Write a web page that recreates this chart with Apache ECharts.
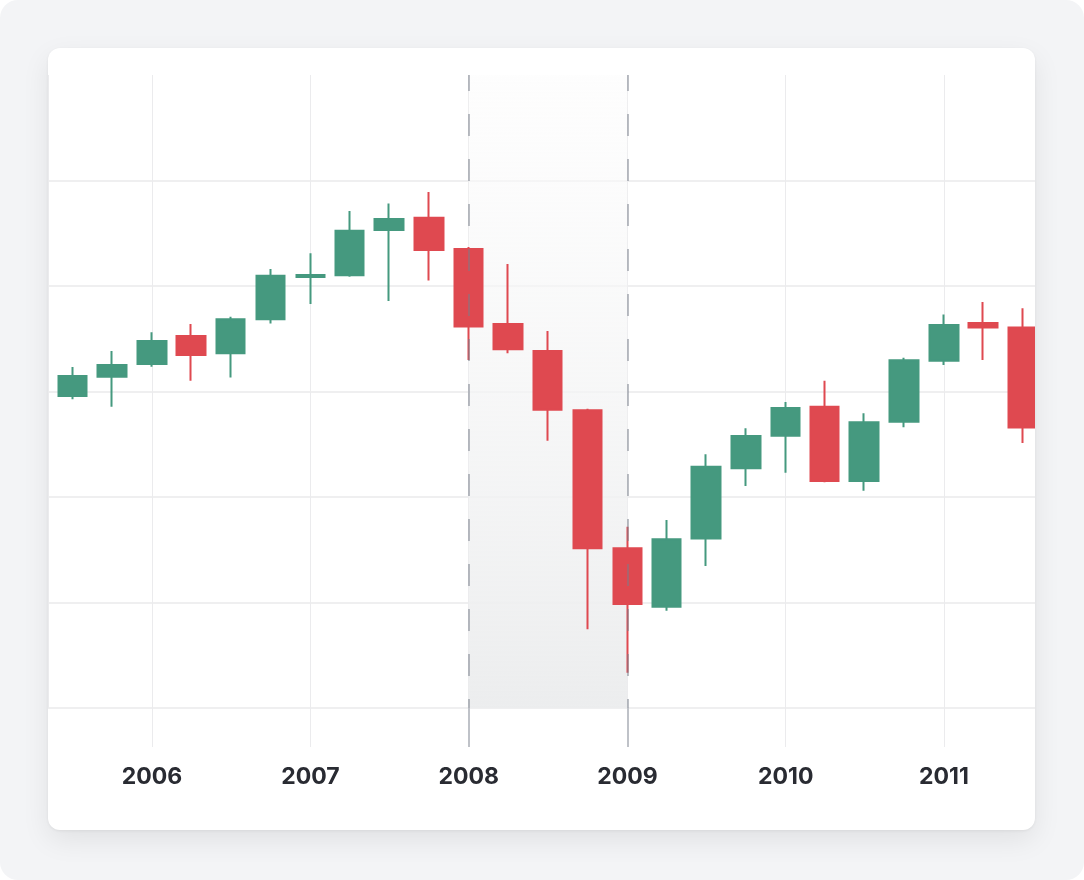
<!DOCTYPE html>
<html>
<head>
<meta charset="utf-8">
<script src="https://cdn.jsdelivr.net/npm/echarts@6/dist/echarts.min.js"></script>
<style>
  html, body { margin: 0; padding: 0; background: #ffffff; }
  #frame { position: absolute; left: 0; top: 0; width: 1084px; height: 880px; background: #f3f4f6; border-radius: 18px; overflow: hidden; }
  #card { position: absolute; left: 48px; top: 48px; width: 987px; height: 782px; background: #ffffff; border-radius: 12px; overflow: hidden;
          box-shadow: 0 10px 28px rgba(0,0,0,0.08), 0 1px 3px rgba(0,0,0,0.06); }
  #chart { width: 987px; height: 782px; }
</style>
</head>
<body>
<div id="frame"><div id="card"><div id="chart"></div></div></div>
<script>
// Quarterly candles
const dates = ['2005-04-01','2005-07-01','2005-10-01','2006-01-01','2006-04-01','2006-07-01','2006-10-01',
  '2007-01-01','2007-04-01','2007-07-01','2007-10-01','2008-01-01','2008-04-01','2008-07-01','2008-10-01',
  '2009-01-01','2009-04-01','2009-07-01','2009-10-01','2010-01-01','2010-04-01','2010-07-01','2010-10-01',
  '2011-01-01','2011-04-01','2011-07-01'];
const openVals  = [89.1, 89.57, 91.40, 92.61, 95.26, 93.62, 96.84, 100.85, 101.01, 105.31, 106.48, 103.51, 96.40,
  93.84, 88.22, 75.14, 69.60, 76.06, 82.72, 85.81, 88.56, 81.52, 87.14, 92.92, 96.49, 96.06];
const closeVals = [89.7, 91.47, 92.51, 94.79, 93.46, 96.84, 100.97, 101.05, 105.24, 106.35, 103.41, 96.16, 94.00,
  88.28, 75.14, 69.86, 75.99, 82.87, 85.78, 88.44, 81.52, 87.08, 92.96, 96.30, 96.06, 86.58];
const lowVals   = [88.8, 89.26, 88.56, 92.35, 91.02, 91.33, 96.45, 98.29, 100.88, 98.58, 100.51, 92.99, 93.62,
  85.34, 67.46, 63.34, 69.22, 73.46, 81.04, 82.30, 81.39, 80.60, 86.61, 92.51, 92.99, 85.13];
const highVals  = [90.1, 92.32, 93.84, 95.61, 96.40, 97.09, 101.61, 103.10, 107.11, 107.83, 108.90, 103.70, 102.09,
  95.73, 88.37, 77.19, 77.82, 84.05, 86.51, 89.00, 91.02, 87.93, 93.21, 97.31, 98.48, 97.88];
const highlightStart = '2008-01-01';
const highlightEnd = '2009-01-01';
const axisMinDate = '2005-05-06';
const axisMaxDate = '2011-07-29T20:00:00';

const ts = s => new Date(s).getTime();
const candleData = dates.map((d, i) => [ts(d), openVals[i], closeVals[i], lowVals[i], highVals[i]]);

const UP = '#45997f', DOWN = '#df4950';
const chart = echarts.init(document.getElementById('chart'), null, { renderer: 'canvas' });
chart.setOption({
  animation: false,
  grid: { left: 0, right: 0, top: 27, bottom: 122, containLabel: false },
  xAxis: [{
    type: 'time',
    min: ts(axisMinDate), max: ts(axisMaxDate),
    axisLine: { show: false },
    axisTick: { show: true, length: 39, lineStyle: { color: '#ebebed', width: 1 } },
    splitLine: { show: true, lineStyle: { color: '#ebebed', width: 1 } },
    axisLabel: {
      margin: 69, verticalAlign: 'middle',
      fontFamily: 'Inter', fontSize: 23, fontWeight: 700, color: '#292b32',
      formatter: v => String(new Date(v).getFullYear())
    }
  }, {
    type: 'time', gridIndex: 0, position: 'bottom',
    min: ts(axisMinDate), max: ts(axisMaxDate),
    axisLine: { show: false },
    axisLabel: { show: false, customValues: [ts(highlightStart), ts(highlightEnd)] },
    axisTick: { show: true, length: 39, customValues: [ts(highlightStart), ts(highlightEnd)], lineStyle: { color: '#bfc2c8', width: 2 } },
    splitLine: { show: false }
  }],
  yAxis: {
    type: 'value', min: 60, max: 120, interval: 10,
    axisLine: { show: false }, axisTick: { show: false }, axisLabel: { show: false },
    splitLine: { show: true, showMaxLine: false, lineStyle: { color: '#efeff0', width: 2 } }
  },
  series: [{
    type: 'candlestick',
    xAxisIndex: 0,
    encode: { x: 0, y: [1, 2, 3, 4] },
    data: candleData,
    barWidth: 29,
    itemStyle: { color: UP, color0: DOWN, borderColor: UP, borderColor0: DOWN, borderWidth: 2 },
    markArea: {
      silent: true,
      itemStyle: {
        color: { type: 'linear', x: 0, y: 0, x2: 0, y2: 1,
          colorStops: [{ offset: 0, color: 'rgba(252,252,252,0.5)' }, { offset: 1, color: 'rgba(236,237,238,1)' }] }
      },
      data: [[{ xAxis: ts(highlightStart) }, { xAxis: ts(highlightEnd) }]]
    },
    markLine: {
      silent: true, symbol: ['none', 'none'], label: { show: false },
      lineStyle: { color: 'rgba(120,126,138,0.5)', width: 2, type: [22, 23], dashOffset: 13 },
      data: [{ xAxis: ts(highlightStart) }, { xAxis: ts(highlightEnd) }]
    }
  }]
});
</script>
</body>
</html>
